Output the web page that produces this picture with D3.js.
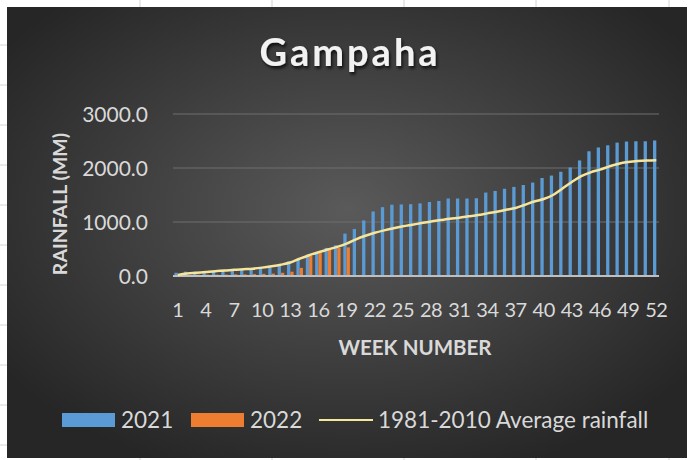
<!DOCTYPE html>
<html>
<head>
<meta charset="utf-8">
<script src="https://cdn.jsdelivr.net/npm/d3@7"></script>
<style>
  body { margin: 0; background: #fff; }
  text { font-family: Lato, "Open Sans", sans-serif; }
</style>
</head>
<body>
<div id="chart"></div>
<script>
// weekly cumulative rainfall, Gampaha
let weeks = d3.range(1, 53);

let rain2021 = [60, 80, 80, 85, 90, 95, 100, 110, 125, 145, 180, 210, 270, 300, 380, 430, 520, 570, 785, 870,
    1030, 1195, 1275, 1320, 1325, 1330, 1345, 1370, 1390, 1435, 1435, 1435, 1440, 1545, 1575, 1615, 1650, 1685, 1730, 1815,
    1860, 1930, 2010, 2140, 2310, 2380, 2420, 2470, 2490, 2495, 2495, 2510];

let rain2022 = [5, 20, 25, 25, 25, 25, 30, 30, 35, 40, 45, 60, 80, 150, 370, 425, 490, 520, 530];

let avgRain = [20, 45, 60, 75, 90, 100, 115, 125, 135, 155, 180, 210, 250, 320, 385, 440, 490, 540, 600, 680,
    745, 800, 845, 885, 920, 950, 980, 1010, 1035, 1060, 1080, 1105, 1130, 1160, 1190, 1225, 1260, 1320, 1380, 1425,
    1500, 1620, 1740, 1850, 1920, 1970, 2030, 2080, 2110, 2130, 2140, 2145];

let yTicks = [0, 1000, 2000, 3000];
let seriesNames = ["2021", "2022"];
let lineName = "1981-2010 Average rainfall";

let WIDTH = 689,
    HEIGHT = 460;

let margin = { left: 173, right: 30, top: 114, bottom: 184 };

let svg = d3.select("#chart")
    .append("svg")
    .attr("width", WIDTH)
    .attr("height", HEIGHT)
    .style("display", "block");

let defs = svg.append("defs");

let bg = defs.append("radialGradient")
    .attr("id", "bg")
    .attr("cx", "50%").attr("cy", "45%")
    .attr("r", "62%");
bg.append("stop").attr("offset", "0%").attr("stop-color", "#5a5a5a");
bg.append("stop").attr("offset", "100%").attr("stop-color", "#262626");

let shadow = defs.append("filter").attr("id", "shadow")
    .attr("x", "-20%").attr("y", "-30%").attr("width", "140%").attr("height", "160%");
shadow.append("feDropShadow")
    .attr("dx", 1.5).attr("dy", 2.5).attr("stdDeviation", 1.5)
    .attr("flood-color", "#000").attr("flood-opacity", 0.75);

// excel cell borders peeking out
let cellX = [140, 272, 404, 536, 669];
let cellY = d3.range(45, 460, 40);
svg.selectAll(".cx").data(cellX).enter().append("line")
    .attr("x1", d => d).attr("x2", d => d).attr("y1", 0).attr("y2", HEIGHT)
    .style("stroke", "#d4d4d4");
svg.selectAll(".cy").data(cellY).enter().append("line")
    .attr("x1", 0).attr("x2", 10).attr("y1", d => d).attr("y2", d => d)
    .style("stroke", "#d4d4d4");

// chart area
svg.append("rect")
    .attr("x", 7).attr("y", 7)
    .attr("width", WIDTH - 9).attr("height", 451)
    .style("fill", "url(#bg)");

svg.append("text")
    .attr("x", 350).attr("y", 66)
    .attr("text-anchor", "middle")
    .style("font-size", "38px")
    .style("font-weight", "bold")
    .style("letter-spacing", "3px")
    .style("fill", "#f2f2f2")
    .attr("filter", "url(#shadow)")
    .text("Gampaha");

let x0 = d3.scaleBand()
    .domain(weeks)
    .range([margin.left, WIDTH - margin.right + 2])
    .paddingInner(0.3)
    .paddingOuter(0.15);

let x1 = d3.scaleBand()
    .domain(seriesNames)
    .range([0, x0.bandwidth()]);

let y = d3.scaleLinear()
    .domain([0, 3000])
    .range([276, margin.top]);

let plotRight = WIDTH - margin.right;

// gridlines
svg.selectAll(".grid")
    .data(yTicks.slice(1))
    .enter().append("line")
    .attr("x1", margin.left).attr("x2", plotRight)
    .attr("y1", d => y(d)).attr("y2", d => y(d))
    .style("stroke", "#6e6e6e")
    .style("stroke-width", 1.2);

// y tick labels
svg.selectAll(".ytick")
    .data(yTicks)
    .enter().append("text")
    .attr("x", 148)
    .attr("y", d => y(d) + 7.5)
    .attr("text-anchor", "end")
    .style("font-size", "21px")
    .style("fill", "#d9d9d9")
    .text(d => d3.format(".1f")(d));

// bars
let barData = [
    { name: "2021", values: rain2021, color: "#5b9bd5" },
    { name: "2022", values: rain2022, color: "#ed7d31" }
];

barData.forEach(s => {
    svg.selectAll(".bar-" + s.name)
        .data(s.values)
        .enter().append("rect")
        .attr("x", (d, i) => x0(weeks[i]) + x1(s.name))
        .attr("y", d => y(d))
        .attr("width", x1.bandwidth())
        .attr("height", d => y(0) - y(d))
        .style("fill", s.color);
});

// axis line
svg.append("line")
    .attr("x1", margin.left).attr("x2", plotRight)
    .attr("y1", y(0)).attr("y2", y(0))
    .style("stroke", "#bfbfbf")
    .style("stroke-width", 2);

// average line
let line = d3.line()
    .x((d, i) => x0(weeks[i]) + x0.bandwidth() / 2)
    .y(d => y(d))
    .curve(d3.curveCatmullRom);

svg.append("path")
    .datum(avgRain)
    .attr("d", line)
    .style("fill", "none")
    .style("stroke", "#f6e59c")
    .style("stroke-width", 2.5);

// x tick labels every 3 weeks
svg.selectAll(".xtick")
    .data(weeks.filter(w => (w - 1) % 3 === 0))
    .enter().append("text")
    .attr("x", d => x0(d) + x0.bandwidth() / 2)
    .attr("y", 317)
    .attr("text-anchor", "middle")
    .style("font-size", "20px")
    .style("letter-spacing", "-0.5px")
    .style("fill", "#d9d9d9")
    .text(d => d);

// axis titles
svg.append("text")
    .attr("x", 415).attr("y", 355)
    .attr("text-anchor", "middle")
    .style("font-size", "20.5px")
    .style("font-weight", "bold")
    .style("fill", "#d9d9d9")
    .text("WEEK NUMBER");

svg.append("text")
    .attr("transform", "translate(67,204) rotate(-90)")
    .attr("text-anchor", "middle")
    .style("font-size", "19.5px")
    .style("font-weight", "bold")
    .style("fill", "#d9d9d9")
    .text("RAINFALL (MM)");

// legend
let legend = svg.append("g").attr("transform", "translate(62,420)");

let legendItems = [
    { label: seriesNames[0], color: "#5b9bd5", type: "rect", x: 0 },
    { label: seriesNames[1], color: "#ed7d31", type: "rect", x: 129 },
    { label: lineName, color: "#f6e59c", type: "line", x: 257 }
];

legendItems.forEach(item => {
    let g = legend.append("g").attr("transform", `translate(${item.x},0)`);
    if (item.type === "rect") {
        g.append("rect")
            .attr("x", 0).attr("y", -7)
            .attr("width", 53).attr("height", 14)
            .style("fill", item.color);
    } else {
        g.append("line")
            .attr("x1", 0).attr("x2", 54)
            .attr("y1", 0).attr("y2", 0)
            .style("stroke", item.color)
            .style("stroke-width", 2);
    }
    g.append("text")
        .attr("x", 59)
        .attr("y", 8)
        .style("font-size", "22.5px")
        .style("fill", "#d9d9d9")
        .text(item.label);
});
</script>
</body>
</html>
